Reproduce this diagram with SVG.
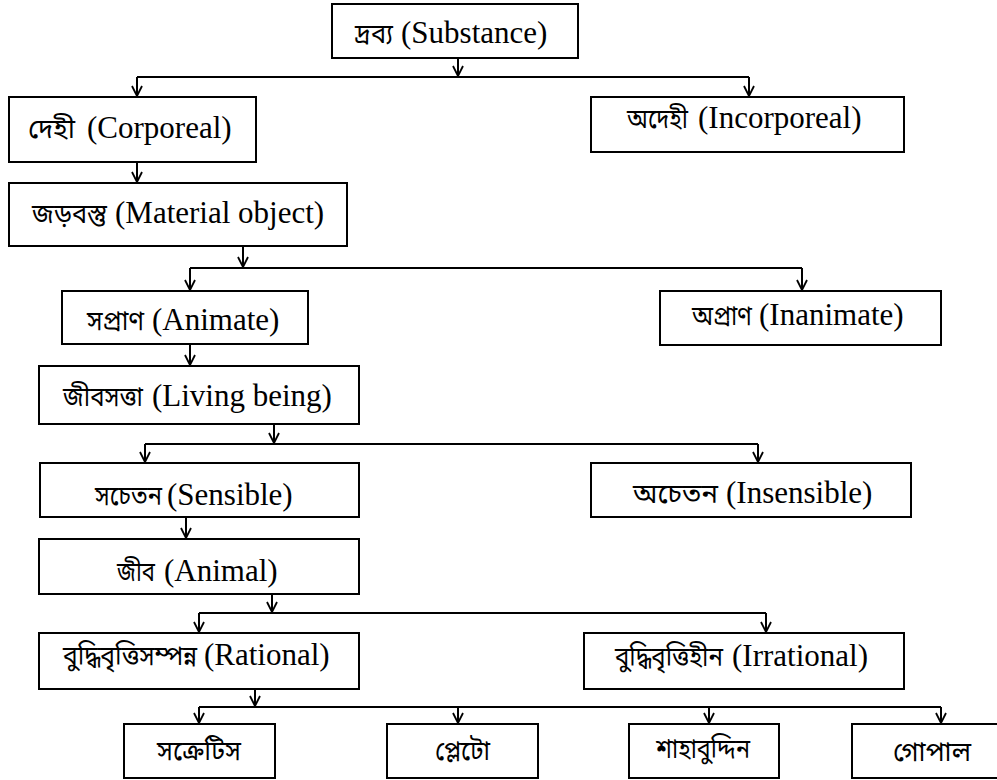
<svg xmlns="http://www.w3.org/2000/svg" width="997" height="780" viewBox="0 0 997 780">
<style>
.box{fill:#fff;stroke:#000;stroke-width:2}
.en{font-family:'Liberation Serif','Times New Roman',serif;font-size:31px;fill:#000}
.bn{font-family:'Noto Sans Bengali','Noto Serif Bengali','Lohit Bengali',sans-serif;font-size:27px;fill:#000}
.ln{fill:none;stroke:#000;stroke-width:2}
.ar{fill:none;stroke:#000;stroke-width:2;marker-end:url(#ah)}
</style>
<defs>
<marker id="ah" markerUnits="userSpaceOnUse" markerWidth="14" markerHeight="14" viewBox="-11 -7 14 14" refX="0" refY="0" orient="auto" overflow="visible">
<path d="M-10,-5 L0,0 L-10,5" fill="none" stroke="#000" stroke-width="1.8"/>
</marker>
</defs>
<rect width="997" height="780" fill="#fff"/>
<g id="connectors">
<path class="ar" d="M458,58 V76"/>
<path class="ln" d="M137,77 H749"/>
<path class="ar" d="M137,77 V96"/>
<path class="ar" d="M749,77 V96"/>
<path class="ar" d="M137,162 V182"/>
<path class="ar" d="M243,246 V267"/>
<path class="ln" d="M190,268 H802"/>
<path class="ar" d="M190,268 V290"/>
<path class="ar" d="M802,268 V290"/>
<path class="ar" d="M190,344 V365"/>
<path class="ar" d="M274,424 V443"/>
<path class="ln" d="M145,444 H758"/>
<path class="ar" d="M145,444 V462"/>
<path class="ar" d="M758,444 V462"/>
<path class="ar" d="M186,517 V538"/>
<path class="ar" d="M272,594 V612"/>
<path class="ln" d="M199,613 H766"/>
<path class="ar" d="M199,613 V632"/>
<path class="ar" d="M766,613 V632"/>
<path class="ar" d="M255,689 V706"/>
<path class="ln" d="M199,707 H941"/>
<path class="ar" d="M199,707 V723"/>
<path class="ar" d="M458,707 V723"/>
<path class="ar" d="M709,707 V723"/>
<path class="ar" d="M941,707 V723"/>
</g>
<g id="substance"><rect class="box" x="332" y="4" width="246" height="54"/><text class="bn" x="355" y="43" textLength="38" lengthAdjust="spacingAndGlyphs">দ্রব্য</text><text class="en" x="401" y="43">(Substance)</text></g>
<g id="corporeal"><rect class="box" x="9" y="97" width="247" height="65"/><text class="bn" x="28" y="138" textLength="47" lengthAdjust="spacingAndGlyphs">দেহী</text><text class="en" x="87" y="138">(Corporeal)</text></g>
<g id="incorporeal"><rect class="box" x="591" y="97" width="313" height="55"/><text class="bn" x="627" y="128" textLength="61" lengthAdjust="spacingAndGlyphs">অদেহী</text><text class="en" x="698" y="128">(Incorporeal)</text></g>
<g id="material"><rect class="box" x="9" y="183" width="338" height="63"/><text class="bn" x="32" y="223" textLength="75" lengthAdjust="spacingAndGlyphs">জড়বস্তু</text><text class="en" x="115" y="223">(Material object)</text></g>
<g id="animate"><rect class="box" x="62" y="291" width="246" height="53"/><text class="bn" x="87" y="330" textLength="57" lengthAdjust="spacingAndGlyphs">সপ্রাণ</text><text class="en" x="152" y="330">(Animate)</text></g>
<g id="inanimate"><rect class="box" x="660" y="291" width="281" height="54"/><text class="bn" x="692" y="325" textLength="60" lengthAdjust="spacingAndGlyphs">অপ্রাণ</text><text class="en" x="759" y="325">(Inanimate)</text></g>
<g id="living"><rect class="box" x="39" y="366" width="320" height="58"/><text class="bn" x="63" y="406" textLength="80" lengthAdjust="spacingAndGlyphs">জীবসত্তা</text><text class="en" x="152" y="406">(Living being)</text></g>
<g id="sensible"><rect class="box" x="40" y="463" width="319" height="54"/><text class="bn" x="95" y="505" textLength="67" lengthAdjust="spacingAndGlyphs">সচেতন</text><text class="en" x="167" y="505">(Sensible)</text></g>
<g id="insensible"><rect class="box" x="591" y="463" width="320" height="54"/><text class="bn" x="633" y="503" textLength="85" lengthAdjust="spacingAndGlyphs">অচেতন</text><text class="en" x="726" y="503">(Insensible)</text></g>
<g id="animal"><rect class="box" x="39" y="539" width="320" height="55"/><text class="bn" x="117" y="581" textLength="38" lengthAdjust="spacingAndGlyphs">জীব</text><text class="en" x="164" y="581">(Animal)</text></g>
<g id="rational"><rect class="box" x="39" y="633" width="320" height="56"/><text class="bn" x="63" y="665" textLength="134" lengthAdjust="spacingAndGlyphs">বুদ্ধিবৃত্তিসম্পন্ন</text><text class="en" x="204" y="665">(Rational)</text></g>
<g id="irrational"><rect class="box" x="584" y="633" width="320" height="56"/><text class="bn" x="615" y="666" textLength="108" lengthAdjust="spacingAndGlyphs">বুদ্ধিবৃত্তিহীন</text><text class="en" x="732" y="666">(Irrational)</text></g>
<g id="socrates"><rect class="box" x="124" y="724" width="151" height="54"/><text class="bn" x="157" y="760" textLength="84" lengthAdjust="spacingAndGlyphs">সক্রেটিস</text></g>
<g id="plato"><rect class="box" x="387" y="724" width="151" height="54"/><text class="bn" x="435" y="760" textLength="55" lengthAdjust="spacingAndGlyphs">প্লেটো</text></g>
<g id="shahabuddin"><rect class="box" x="629" y="724" width="150" height="54"/><text class="bn" x="656" y="758" textLength="94" lengthAdjust="spacingAndGlyphs">শাহাবুদ্দিন</text></g>
<g id="gopal"><rect class="box" x="852" y="724" width="160" height="54"/><text class="bn" x="893" y="761" textLength="78" lengthAdjust="spacingAndGlyphs">গোপাল</text></g>
</svg>
